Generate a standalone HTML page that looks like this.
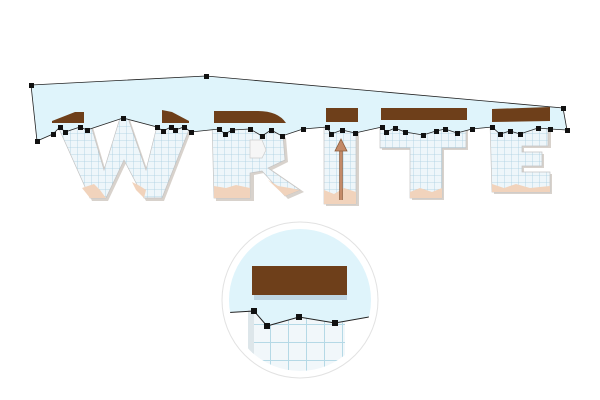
<!DOCTYPE html>
<html><head><style>html,body{margin:0;padding:0;background:#fff}svg{display:block}</style></head>
<body>
<svg width="600" height="400" viewBox="0 0 600 400" xmlns="http://www.w3.org/2000/svg">
<defs>
<pattern id="g" width="7" height="7" patternUnits="userSpaceOnUse">
<rect width="7" height="7" fill="#eef6fa"/>
<path d="M0 0H7M0 0V7" stroke="#a9cfe0" stroke-width="0.8"/>
</pattern>
<pattern id="g2" width="18" height="18" patternUnits="userSpaceOnUse">
<rect width="18" height="18" fill="#f1f7fa"/>
<path d="M0 0H18M0 0V18" stroke="#b5d9e6" stroke-width="2"/>
</pattern>
<clipPath id="cc"><circle cx="300" cy="300" r="71"/></clipPath>
</defs>

<!-- letter shadows -->
<g fill="#d8d2cc">
<polygon points="58,124 92,124 106,172 122,120 130,120 148,172 160,124 194,124 164,201 146,201 126,163 108,201 92,201"/>
<polygon points="214,124 270,124 286,138 288,162 272,170 304,192 288,199 264,173 254,175 254,201 216,201"/>
<rect x="326" y="124" width="33" height="82"/>
<polygon points="382,124 468,124 468,150 444,150 444,200 412,200 412,150 382,150"/>
<polygon points="492,124 551,124 551,148 524,148 524,154 544,154 544,168 524,168 524,174 552,174 552,194 494,194"/>
</g>
<!-- grid paper letters -->
<g fill="url(#g)" stroke="#c4c4c4" stroke-width="0.7">
<polygon points="56,122 90,122 104,170 120,118 128,118 146,170 158,122 192,122 162,198 144,198 124,160 106,198 90,198"/>
<polygon points="212,122 268,122 283,136 285,160 268,168 300,190 285,196 262,171 250,173 250,198 214,198"/>
<rect x="324" y="122" width="32" height="82"/>
<polygon points="380,122 466,122 466,148 442,148 442,198 410,198 410,148 380,148"/>
<polygon points="490,122 548,122 548,146 522,146 522,152 542,152 542,166 522,166 522,172 550,172 550,192 492,192"/>
</g>
<polygon points="250,140 262,140 266,150 262,158 250,158" fill="#f6f6f6" stroke="#ccc" stroke-width="0.7"/>
<!-- torn peach bottoms -->
<g fill="#f1d3bc">
<polygon points="82,188 94,184 100,190 106,198 90,198"/>
<polygon points="132,182 140,186 146,190 144,198 136,190"/>
<polygon points="214,186 226,188 236,185 250,188 250,198 214,198"/>
<polygon points="268,180 278,186 290,188 300,190 285,196"/>
<polygon points="324,190 334,194 344,188 356,192 356,204 324,204"/>
<polygon points="410,192 420,188 432,192 442,188 442,198 410,198"/>
<polygon points="492,184 504,188 516,184 530,188 550,186 550,192 492,192"/>
</g>

<!-- light blue area (covers letter tops) -->
<polygon points="31,85 206,76 563,108 567,130 550,129 538,128 520,134 510,131 500,134 492,127 472,129 457,133 445,129 436,131 423,135 405,132 395,128 386,132 382,127 355,133 342,130 331,134 327,127 303,129 282,136 271,130 262,136 250,129 232,130 225,134 219,129 191,132 184,127 175,130 171,127 163,131 157,127 123,118 87,130 80,127 65,132 60,127 53,134 37,141" fill="#dff4fb"/>

<!-- brown caps -->
<g fill="#6e3f1a">
<polygon points="52,121 75,112 84,112 84,123 52,123"/>
<polygon points="162,110 172,112 189,121 189,123 162,123"/>
<path d="M214 111 H258 Q278 111 286 123 H214 Z"/>
<rect x="326" y="108" width="32" height="14"/>
<rect x="381" y="108" width="86" height="12"/>
<polygon points="492,109 550,107 550,121 492,122"/>
</g>

<!-- outline path -->
<polyline points="31,85 206,76 563,108 567,130 550,129 538,128 520,134 510,131 500,134 492,127 472,129 457,133 445,129 436,131 423,135 405,132 395,128 386,132 382,127 355,133 342,130 331,134 327,127 303,129 282,136 271,130 262,136 250,129 232,130 225,134 219,129 191,132 184,127 175,130 171,127 163,131 157,127 123,118 87,130 80,127 65,132 60,127 53,134 37,141 31,85" fill="none" stroke="#222" stroke-width="0.8"/>
<g fill="#111">
<rect x="29" y="83" width="5" height="5"/><rect x="204" y="74" width="5" height="5"/><rect x="561" y="106" width="5" height="5"/><rect x="565" y="128" width="5" height="5"/><rect x="35" y="139" width="5" height="5"/>
<rect x="548" y="127" width="5" height="5"/><rect x="536" y="126" width="5" height="5"/><rect x="518" y="132" width="5" height="5"/><rect x="508" y="129" width="5" height="5"/><rect x="498" y="132" width="5" height="5"/><rect x="490" y="125" width="5" height="5"/><rect x="470" y="127" width="5" height="5"/><rect x="455" y="131" width="5" height="5"/><rect x="443" y="127" width="5" height="5"/><rect x="434" y="129" width="5" height="5"/><rect x="421" y="133" width="5" height="5"/><rect x="403" y="130" width="5" height="5"/><rect x="393" y="126" width="5" height="5"/><rect x="384" y="130" width="5" height="5"/><rect x="380" y="125" width="5" height="5"/><rect x="353" y="131" width="5" height="5"/><rect x="340" y="128" width="5" height="5"/><rect x="329" y="132" width="5" height="5"/><rect x="325" y="125" width="5" height="5"/><rect x="301" y="127" width="5" height="5"/><rect x="280" y="134" width="5" height="5"/><rect x="269" y="128" width="5" height="5"/><rect x="260" y="134" width="5" height="5"/><rect x="248" y="127" width="5" height="5"/><rect x="230" y="128" width="5" height="5"/><rect x="223" y="132" width="5" height="5"/><rect x="217" y="127" width="5" height="5"/><rect x="189" y="130" width="5" height="5"/><rect x="182" y="125" width="5" height="5"/><rect x="173" y="128" width="5" height="5"/><rect x="169" y="125" width="5" height="5"/><rect x="161" y="129" width="5" height="5"/><rect x="155" y="125" width="5" height="5"/><rect x="121" y="116" width="5" height="5"/><rect x="85" y="128" width="5" height="5"/><rect x="78" y="125" width="5" height="5"/><rect x="63" y="130" width="5" height="5"/><rect x="58" y="125" width="5" height="5"/><rect x="51" y="132" width="5" height="5"/>
</g>

<!-- arrow -->
<line x1="341" y1="150" x2="341" y2="200" stroke="#8a5a3a" stroke-width="3.5"/>
<line x1="341" y1="150" x2="341" y2="200" stroke="#c48a68" stroke-width="2"/>
<polygon points="341,139 347,151 335,151" fill="#c48a68" stroke="#8a5a3a" stroke-width="0.8"/>

<!-- magnifier circle -->
<circle cx="300" cy="300" r="78" fill="#fff" stroke="#e2e2e2" stroke-width="1"/>
<g clip-path="url(#cc)">
<rect x="220" y="220" width="160" height="160" fill="#fff"/>
<polygon points="220,220 380,220 380,317 367,317 335,323 299,317 267,326 254,311 220,313" fill="#dff4fb"/>
<polygon points="248,318 254,311 267,326 299,317 335,323 345,322 345,380 248,380" fill="url(#g2)"/>
<rect x="248" y="310" width="6" height="70" fill="#dde6ea"/>
<rect x="254" y="270" width="93" height="30" fill="#bfd6e2"/>
<rect x="252" y="266" width="95" height="29" fill="#6e3f1a"/>
<polyline points="220,313 254,311 267,326 299,317 335,323 380,315" fill="none" stroke="#222" stroke-width="1"/>
<rect x="251" y="308" width="6" height="6" fill="#111"/><rect x="264" y="323" width="6" height="6" fill="#111"/><rect x="296" y="314" width="6" height="6" fill="#111"/><rect x="332" y="320" width="6" height="6" fill="#111"/>
</g>
</svg>
</body></html>
